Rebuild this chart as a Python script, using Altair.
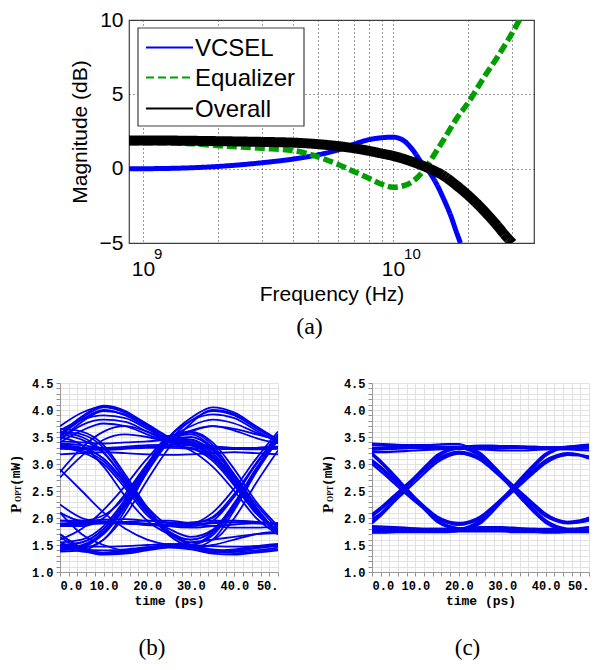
import altair as alt
import pandas as pd

SANS = "Liberation Sans"
SERIF = "Liberation Serif"
MONO = "Liberation Mono"

# ---------------- Panel (a): frequency response ----------------
SERIES = ["VCSEL", "Equalizer", "Overall"]
SERIES_COLORS = ["#0000ff", "#009e00", "#000000"]
SERIES_DASH = [[1, 0], [10, 4], [1, 0]]
LEGEND_DASH = [[1, 0], [8, 4], [1, 0]]
SERIES_WIDTH = [5, 5.5, 10]

VCSEL_FREQ = [8.8e8, 1e9, 1.5e9, 2e9, 3e9, 4e9, 5e9, 6e9, 7e9, 8e9, 9e9, 1e10,
              1.1e10, 1.2e10, 1.3e10, 1.4e10, 1.5e10, 1.6e10, 1.7e10, 1.8e10, 1.86e10]
VCSEL_DB = [0.0, 0.0, 0.05, 0.15, 0.4, 0.65, 0.93, 1.25, 1.65, 1.95, 2.08, 2.12,
            1.9, 1.25, 0.4, -0.25, -1.1, -2.1, -3.15, -4.35, -5.0]

EQ_FREQ = [8.8e8, 1e9, 1.5e9, 2e9, 3e9, 4e9, 5e9, 6e9, 7e9, 8e9, 9e9, 1e10,
           1.1e10, 1.2e10, 1.3e10, 1.4e10, 1.5e10, 1.6e10, 1.8e10, 2e10, 2.3e10,
           2.6e10, 3e10, 3.2e10]
EQ_DB = [1.75, 1.75, 1.7, 1.55, 1.37, 1.22, 0.8, 0.3, -0.2, -0.65, -1.05, -1.25,
         -1.15, -0.85, -0.3, 0.45, 1.25, 2.0, 3.4, 4.45, 6.1, 7.45, 9.15, 10.0]

OVR_FREQ = [8.8e8, 1e9, 2e9, 3e9, 4e9, 5e9, 6e9, 7e9, 8e9, 9e9, 1e10, 1.2e10,
            1.4e10, 1.6e10, 1.8e10, 2e10, 2.3e10, 2.6e10, 2.9e10, 3e10]
OVR_DB = [1.9, 1.9, 1.85, 1.8, 1.75, 1.65, 1.52, 1.37, 1.2, 1.02, 0.86, 0.45,
          0.0, -0.5, -1.15, -1.8, -2.8, -3.8, -4.75, -5.0]

FREQ_DOMAIN = [8.8e8, 3.66e10]
DB_DOMAIN = [-5, 10]
X_GRID_FREQ = [1e9, 2e9, 3e9, 4e9, 5e9, 6e9, 7e9, 8e9, 9e9, 1e10, 2e10, 3e10]
Y_TICKS_DB = [-5, 0, 5, 10]
EXPONENT_FREQ = [1e9, 1e10]
EXPONENT_TEXT = ["9", "10"]

# ---------------- Panels (b), (c): eye diagrams ----------------
EYE_B_TIME = [0, 5, 10, 15, 20, 25, 30, 35, 40, 45, 50]
EYE_B_TRACES = [
    [1.5, 1.55, 1.8, 2.3, 2.95, 3.5, 3.85, 4.05, 3.95, 3.7, 3.45],
    [2.1, 1.95, 2.05, 2.4, 3.0, 3.5, 3.8, 3.92, 3.85, 3.62, 3.4],
    [3.5, 3.85, 4.05, 3.95, 3.7, 3.45, 3.4, 3.15, 2.65, 2.1, 1.7],
    [3.55, 3.88, 4.08, 3.98, 3.72, 3.48, 3.38, 3.33, 3.3, 3.3, 3.32],
    [3.6, 3.55, 3.3, 2.75, 2.15, 1.7, 1.6, 1.75, 2.25, 2.9, 3.48],
    [3.35, 3.3, 3.1, 2.65, 2.1, 1.75, 1.5, 1.38, 1.4, 1.45, 1.5],
    [1.7, 1.45, 1.35, 1.38, 1.45, 1.5, 1.45, 1.6, 2.15, 2.85, 3.45],
    [1.85, 1.88, 1.9, 1.9, 1.88, 1.86, 1.87, 1.9, 1.92, 1.9, 1.88],
    [3.32, 3.3, 3.28, 3.3, 3.32, 3.33, 3.3, 3.28, 3.28, 3.3, 3.32],
    [3.3, 3.3, 3.28, 3.3, 3.32, 3.33, 3.3, 3.1, 2.65, 2.1, 1.75],
    [1.85, 1.88, 1.9, 1.9, 1.88, 1.86, 1.85, 1.95, 2.4, 3.0, 3.52],
    [1.5, 1.55, 1.8, 2.3, 2.95, 3.5, 3.55, 3.3, 2.75, 2.15, 1.7],
    [3.35, 3.3, 3.1, 2.65, 2.1, 1.75, 1.6, 1.75, 2.25, 2.9, 3.48],
    [1.7, 1.45, 1.35, 1.38, 1.45, 1.5, 1.55, 1.6, 1.65, 1.7, 1.72],
    [1.45, 1.38, 1.36, 1.4, 1.45, 1.48, 1.45, 1.38, 1.35, 1.38, 1.42],
    [3.4, 3.62, 3.75, 3.7, 3.55, 3.4, 3.35, 3.12, 2.65, 2.12, 1.72],
    [2.1, 1.7, 1.5, 1.4, 1.42, 1.48, 1.5, 1.72, 2.2, 2.85, 3.45],
    [2.85, 3.3, 3.6, 3.7, 3.6, 3.45, 3.38, 3.32, 3.3, 3.3, 3.3],
    [2.25, 2.0, 1.92, 1.9, 1.88, 1.87, 1.9, 2.0, 2.4, 3.0, 3.5],
    [3.45, 3.72, 3.82, 3.78, 3.6, 3.42, 3.38, 3.15, 2.68, 2.12, 1.72],
    [1.4, 1.45, 1.72, 2.25, 2.9, 3.45, 3.7, 3.82, 3.75, 3.58, 3.42],
    [3.3, 3.25, 3.05, 2.6, 2.1, 1.85, 1.82, 1.85, 1.88, 1.9, 1.9],
    [3.18, 3.2, 3.22, 3.2, 3.18, 3.17, 3.18, 3.2, 3.22, 3.2, 3.18],
    [1.95, 1.93, 1.92, 1.93, 1.95, 1.95, 1.9, 1.85, 1.82, 1.82, 1.84],
    [3.65, 3.6, 3.35, 2.8, 2.2, 1.72, 1.5, 1.4, 1.42, 1.48, 1.52],
    [1.5, 1.45, 1.6, 2.15, 2.85, 3.45, 3.5, 3.28, 2.75, 2.15, 1.7],
    [1.38, 1.4, 1.6, 2.05, 2.7, 3.3, 3.75, 4.0, 3.92, 3.68, 3.45],
    [1.85, 1.85, 2.0, 2.45, 3.0, 3.45, 3.62, 3.7, 3.62, 3.48, 3.38],
    [3.45, 3.78, 3.98, 3.92, 3.72, 3.5, 3.45, 3.25, 2.8, 2.25, 1.8],
    [3.62, 3.82, 3.9, 3.85, 3.65, 3.45, 3.35, 3.3, 3.28, 3.27, 3.28],
    [3.5, 3.35, 2.95, 2.4, 1.95, 1.7, 1.55, 1.6, 2.0, 2.65, 3.25],
    [3.55, 3.45, 3.2, 2.7, 2.2, 1.9, 1.92, 1.95, 1.95, 1.92, 1.9],
    [1.95, 1.95, 1.97, 1.98, 1.95, 1.92, 1.9, 2.1, 2.55, 3.1, 3.6],
    [1.6, 1.8, 2.15, 2.6, 3.1, 3.45, 3.45, 3.2, 2.7, 2.15, 1.75],
    [1.55, 1.4, 1.32, 1.34, 1.4, 1.45, 1.42, 1.34, 1.32, 1.36, 1.4],
    [1.5, 1.48, 1.47, 1.48, 1.5, 1.52, 1.5, 1.48, 1.47, 1.48, 1.5],
    [3.42, 3.4, 3.38, 3.4, 3.42, 3.45, 3.6, 3.7, 3.65, 3.55, 3.45],
    [2.9, 2.5, 2.1, 1.8, 1.6, 1.5, 1.45, 1.5, 1.6, 1.7, 1.75],
    [2.75, 3.15, 3.45, 3.55, 3.5, 3.4, 3.25, 2.95, 2.5, 2.0, 1.7],
    [1.45, 1.5, 1.75, 2.25, 2.9, 3.45, 3.6, 3.4, 2.9, 2.3, 1.85],
    [1.42, 1.48, 1.7, 2.2, 2.85, 3.42, 3.8, 3.98, 3.9, 3.66, 3.44],
    [3.52, 3.82, 4.0, 3.9, 3.68, 3.46, 3.42, 3.2, 2.72, 2.16, 1.74],
    [3.58, 3.5, 3.22, 2.7, 2.12, 1.68, 1.45, 1.36, 1.38, 1.44, 1.48],
    [1.65, 1.42, 1.34, 1.36, 1.42, 1.48, 1.5, 1.68, 2.2, 2.88, 3.47],
    [1.88, 1.9, 1.92, 1.9, 1.87, 1.85, 1.88, 1.92, 1.95, 1.93, 1.9],
    [3.28, 3.27, 3.26, 3.28, 3.3, 3.3, 3.28, 3.06, 2.6, 2.08, 1.78],
    [1.9, 1.92, 1.94, 1.92, 1.9, 1.88, 1.9, 2.02, 2.45, 3.02, 3.55],
    [3.38, 3.35, 3.3, 3.32, 3.35, 3.36, 3.34, 3.3, 3.28, 3.29, 3.3],
    [3.3, 3.22, 3.0, 2.55, 2.05, 1.8, 1.65, 1.78, 2.28, 2.92, 3.5],
    [1.55, 1.6, 1.85, 2.35, 2.98, 3.52, 3.58, 3.35, 2.8, 2.2, 1.72],
    [3.7, 3.95, 4.06, 3.96, 3.74, 3.5, 3.36, 3.3, 3.28, 3.28, 3.3],
    [1.48, 1.42, 1.4, 1.42, 1.46, 1.5, 1.48, 1.42, 1.38, 1.4, 1.45],
]

EYE_C_TIME = [0, 2.5, 5, 7.5, 10, 12.5, 15, 17.5, 20, 22.5, 25, 27.5, 30, 32.5,
              35, 37.5, 40, 42.5, 45, 47.5, 50]
EYE_C_TRACES = [
    [2.03, 2.19, 2.37, 2.55, 2.73, 2.91, 3.07, 3.16, 3.2, 3.16, 3.07, 2.91, 2.73, 2.55, 2.37, 2.19, 2.03, 1.94, 1.9, 1.92, 1.98],
    [3.07, 2.91, 2.73, 2.55, 2.37, 2.19, 2.03, 1.94, 1.9, 1.94, 2.03, 2.19, 2.37, 2.55, 2.73, 2.91, 3.07, 3.16, 3.2, 3.18, 3.12],
    [3.35, 3.34, 3.33, 3.32, 3.3, 3.29, 3.28, 3.28, 3.29, 3.3, 3.31, 3.32, 3.33, 3.33, 3.32, 3.31, 3.3, 3.3, 3.31, 3.33, 3.35],
    [3.22, 3.22, 3.23, 3.24, 3.25, 3.26, 3.27, 3.28, 3.28, 3.28, 3.27, 3.26, 3.25, 3.25, 3.25, 3.26, 3.27, 3.27, 3.27, 3.26, 3.25],
    [1.78, 1.78, 1.77, 1.77, 1.76, 1.76, 1.76, 1.77, 1.78, 1.79, 1.8, 1.8, 1.8, 1.79, 1.78, 1.77, 1.76, 1.76, 1.76, 1.77, 1.78],
    [1.85, 1.84, 1.83, 1.82, 1.81, 1.8, 1.8, 1.8, 1.81, 1.82, 1.83, 1.83, 1.83, 1.82, 1.81, 1.8, 1.79, 1.79, 1.8, 1.81, 1.83],
    [1.93, 2.12, 2.33, 2.55, 2.77, 2.98, 3.17, 3.27, 3.32, 3.33, 3.34, 3.34, 3.33, 3.33, 3.32, 3.32, 3.31, 3.31, 3.31, 3.32, 3.32],
    [3.17, 2.98, 2.77, 2.55, 2.33, 2.12, 1.93, 1.83, 1.78, 1.77, 1.76, 1.76, 1.77, 1.77, 1.78, 1.78, 1.79, 1.79, 1.79, 1.78, 1.78],
    [3.3, 3.3, 3.31, 3.31, 3.32, 3.32, 3.32, 3.32, 3.32, 3.27, 3.17, 2.98, 2.77, 2.55, 2.33, 2.12, 1.93, 1.83, 1.78, 1.77, 1.77],
    [1.8, 1.79, 1.79, 1.78, 1.78, 1.78, 1.78, 1.78, 1.78, 1.83, 1.93, 2.12, 2.33, 2.55, 2.77, 2.98, 3.17, 3.27, 3.32, 3.33, 3.34],
    [1.98, 2.12, 2.3, 2.48, 2.67, 2.86, 3.03, 3.14, 3.19, 3.17, 3.1, 2.96, 2.79, 2.61, 2.43, 2.25, 2.08, 1.97, 1.92, 1.92, 1.95],
    [3.0, 2.83, 2.65, 2.47, 2.3, 2.14, 2.0, 1.93, 1.91, 1.92, 1.99, 2.13, 2.31, 2.49, 2.67, 2.85, 3.01, 3.12, 3.17, 3.17, 3.14],
    [2.03, 2.19, 2.37, 2.55, 2.75, 2.95, 3.13, 3.24, 3.29, 3.31, 3.32, 3.32, 3.32, 3.31, 3.3, 3.3, 3.3, 3.3, 3.31, 3.31, 3.31],
    [3.07, 2.91, 2.73, 2.55, 2.35, 2.15, 1.97, 1.86, 1.81, 1.79, 1.78, 1.78, 1.78, 1.79, 1.79, 1.8, 1.8, 1.8, 1.79, 1.79, 1.79],
    [3.38, 3.37, 3.36, 3.35, 3.35, 3.35, 3.36, 3.37, 3.37, 3.3, 3.2, 3.01, 2.8, 2.57, 2.35, 2.14, 1.96, 1.85, 1.8, 1.78, 1.77],
    [1.74, 1.74, 1.74, 1.75, 1.75, 1.75, 1.75, 1.75, 1.76, 1.8, 1.9, 2.09, 2.31, 2.53, 2.75, 2.96, 3.15, 3.26, 3.31, 3.34, 3.36],
    [3.28, 3.29, 3.3, 3.3, 3.31, 3.31, 3.31, 3.3, 3.3, 3.3, 3.29, 3.29, 3.29, 3.3, 3.3, 3.31, 3.31, 3.31, 3.3, 3.3, 3.29],
    [1.73, 1.73, 1.74, 1.74, 1.74, 1.74, 1.74, 1.74, 1.75, 1.75, 1.75, 1.75, 1.75, 1.74, 1.74, 1.74, 1.73, 1.73, 1.74, 1.74, 1.74],
    [2.07, 2.23, 2.41, 2.59, 2.77, 2.95, 3.1, 3.19, 3.23, 3.2, 3.11, 2.95, 2.77, 2.58, 2.4, 2.22, 2.06, 1.97, 1.93, 1.95, 2.01],
    [3.04, 2.88, 2.7, 2.52, 2.34, 2.16, 2.0, 1.91, 1.87, 1.91, 2.0, 2.16, 2.34, 2.52, 2.7, 2.88, 3.04, 3.13, 3.17, 3.16, 3.1],
    [1.9, 2.08, 2.29, 2.51, 2.73, 2.95, 3.14, 3.25, 3.3, 3.32, 3.32, 3.31, 3.31, 3.31, 3.3, 3.3, 3.3, 3.29, 3.29, 3.29, 3.3],
    [3.2, 3.02, 2.81, 2.59, 2.37, 2.15, 1.96, 1.85, 1.8, 1.78, 1.77, 1.77, 1.77, 1.77, 1.77, 1.78, 1.78, 1.78, 1.78, 1.78, 1.78],
    [3.26, 3.27, 3.28, 3.29, 3.3, 3.3, 3.3, 3.3, 3.3, 3.25, 3.14, 2.95, 2.74, 2.52, 2.3, 2.09, 1.91, 1.81, 1.77, 1.76, 1.76],
    [1.82, 1.81, 1.81, 1.8, 1.8, 1.8, 1.8, 1.8, 1.8, 1.85, 1.96, 2.15, 2.36, 2.58, 2.8, 3.01, 3.19, 3.28, 3.32, 3.32, 3.32],
]

EYE_T_DOMAIN = [0, 50]
EYE_V_DOMAIN = [1.0, 4.5]
EYE_X_TICKS = list(range(0, 51, 2))
EYE_Y_TICKS = [round(1.0 + 0.1 * i, 1) for i in range(36)]
EYE_COLOR = "#0000ee"

# ---------------- build panel (a) ----------------
x_enc = alt.X("f:Q",
              scale=alt.Scale(type="log", domain=FREQ_DOMAIN, nice=False),
              axis=alt.Axis(values=X_GRID_FREQ,
                            labelExpr="(datum.value == 1000000000 || datum.value == 10000000000) ? '10' : ''",
                            labelOverlap=False, grid=True, gridDash=[1, 3],
                            gridColor="#333333", gridOpacity=1, ticks=False, domain=False,
                            labelFont=SANS, labelFontSize=21, labelColor="black",
                            labelPadding=15, title="Frequency (Hz)", titleFont=SANS,
                            titleFontSize=21, titleFontWeight="normal",
                            titleColor="black", titlePadding=4))
y_enc = alt.Y("db:Q",
              scale=alt.Scale(domain=DB_DOMAIN, nice=False),
              axis=alt.Axis(values=Y_TICKS_DB, grid=True, gridDash=[1, 3],
                            gridColor="#333333", gridOpacity=1, ticks=False, domain=False,
                            labelFont=SANS, labelFontSize=21, labelColor="black",
                            labelPadding=6, title="Magnitude (dB)", titleFont=SANS,
                            titleFontSize=21, titleFontWeight="normal",
                            titleColor="black", titlePadding=9))

series_data = [(VCSEL_FREQ, VCSEL_DB), (EQ_FREQ, EQ_DB), (OVR_FREQ, OVR_DB)]
layers = []
for i, (fr, db) in enumerate(series_data):
    df = pd.DataFrame({"f": fr, "db": db, "series": SERIES[i]})
    layers.append(
        alt.Chart(df).mark_line(clip=True, interpolate="monotone", strokeCap="butt",
                                color=SERIES_COLORS[i], strokeDash=SERIES_DASH[i],
                                strokeWidth=SERIES_WIDTH[i]).encode(x=x_enc, y=y_enc)
    )

exp_layer = alt.Chart(pd.DataFrame({"f": EXPONENT_FREQ, "e": EXPONENT_TEXT})).mark_text(
    align="left", baseline="middle", dx=11, fontSize=15, font=SANS, color="black"
).encode(x=alt.X("f:Q"), y=alt.value(234), text="e:N")

# legend box drawn inside the plot (top-left)
legend_layers = [
    alt.Chart(pd.DataFrame({"k": [0]})).mark_rect(fill="white", stroke="#404040", strokeWidth=1.2).encode(
        x=alt.value(9), x2=alt.value(175), y=alt.value(8), y2=alt.value(106))
]
LEGEND_ROW_Y = [27.5, 57.5, 88.5]
for i, name in enumerate(SERIES):
    legend_layers.append(
        alt.Chart(pd.DataFrame({"s": [name]})).mark_rule(
            color=SERIES_COLORS[i], strokeWidth=2, strokeDash=LEGEND_DASH[i]).encode(
            x=alt.value(17), x2=alt.value(64), y=alt.value(LEGEND_ROW_Y[i]))
    )
    legend_layers.append(
        alt.Chart(pd.DataFrame({"s": [name]})).mark_text(
            align="left", baseline="middle", font=SANS, fontSize=24, color="black").encode(
            x=alt.value(66), y=alt.value(LEGEND_ROW_Y[i] + 1), text="s:N")
    )

top = alt.layer(*layers, exp_layer, *legend_layers).properties(
    width=405, height=223,
    view=alt.ViewBackground(stroke="#404040", strokeWidth=1.2),
    title=alt.TitleParams("(a)", orient="bottom", anchor="middle", frame="group",
                          font=SERIF, fontSize=24, fontWeight="normal", color="black",
                          dx=-22, offset=11),
)

# empty spacer that shifts the top panel to the right
spacer = alt.Chart(pd.DataFrame({"z": [0]})).mark_rule(opacity=0).encode(
    x=alt.value(0), y=alt.value(0), y2=alt.value(1)
).properties(width=7, height=10)

top_row = alt.hconcat(spacer, top, spacing=0)


# ---------------- build panels (b), (c) ----------------
def eye_chart(times, traces, caption, cap_dx, width, line_w):
    rows = []
    for k, tr in enumerate(traces):
        for t, v in zip(times, tr):
            rows.append({"trace": k, "t": t, "v": v})
    df = pd.DataFrame(rows)
    lines = alt.Chart(df).mark_line(color=EYE_COLOR, strokeWidth=line_w,
                                    interpolate="monotone", clip=True).encode(
        x=alt.X("t:Q", scale=alt.Scale(domain=EYE_T_DOMAIN, nice=False),
                axis=alt.Axis(values=EYE_X_TICKS,
                              labelExpr="datum.value % 10 == 0 ? (datum.value == 50 ? '50.' : format(datum.value, '.1f')) : ''",
                              labelOverlap=False, grid=True, gridColor="#e2e2e2",
                              tickSize=4, tickColor="#909090", domainColor="#9a9a9a",
                              labelFont=MONO, labelFontSize=12, labelFontWeight="bold",
                              labelColor="black", labelPadding=4,
                              title="time (ps)", titleFont=MONO, titleFontSize=13,
                              titleFontWeight="bold", titleColor="black", titlePadding=3)),
        y=alt.Y("v:Q", scale=alt.Scale(domain=EYE_V_DOMAIN, nice=False),
                axis=alt.Axis(values=EYE_Y_TICKS,
                              labelExpr="abs(datum.value * 2 - round(datum.value * 2)) < 0.001 ? format(datum.value, '.1f') : ''",
                              labelOverlap=False, grid=True, gridColor="#e2e2e2",
                              tickSize=4, tickColor="#909090", domainColor="#9a9a9a",
                              labelFont=MONO, labelFontSize=12, labelFontWeight="bold",
                              labelColor="black", labelPadding=3, title=None)),
        detail="trace:N",
    )
    p_txt = alt.Chart(pd.DataFrame({"s": ["P"]})).mark_text(
        angle=270, align="left", baseline="middle", font=SERIF, fontWeight="bold",
        fontSize=15, color="black").encode(x=alt.value(-44.5), y=alt.value(130), text="s:N")
    sub_txt = alt.Chart(pd.DataFrame({"s": ["OPT"]})).mark_text(
        angle=270, align="left", baseline="middle", font=SERIF, fontWeight="bold",
        fontSize=8, color="black").encode(x=alt.value(-41), y=alt.value(119), text="s:N")
    unit_txt = alt.Chart(pd.DataFrame({"s": ["(mW)"]})).mark_text(
        angle=270, align="left", baseline="middle", font=MONO, fontWeight="bold",
        fontSize=13, color="black").encode(x=alt.value(-44.5), y=alt.value(103), text="s:N")
    return alt.layer(lines, p_txt, sub_txt, unit_txt).properties(
        width=width, height=189,
        title=alt.TitleParams(caption, orient="bottom", anchor="middle", frame="group",
                              font=SERIF, fontSize=23, fontWeight="normal", color="black",
                              dx=cap_dx, offset=30),
    )


eye_b = eye_chart(EYE_B_TIME, EYE_B_TRACES, "(b)", -17, 218, 1.8)
eye_c = eye_chart(EYE_C_TIME, EYE_C_TRACES, "(c)", -13, 217, 2.2)
bottom_row = alt.hconcat(eye_b, eye_c, spacing=41)

chart = alt.vconcat(top_row, bottom_row, spacing=36).properties(
    padding=0, background="white"
).configure_view(stroke="transparent")

chart.save("out.html", embed_options={"renderer": "svg", "actions": False})
